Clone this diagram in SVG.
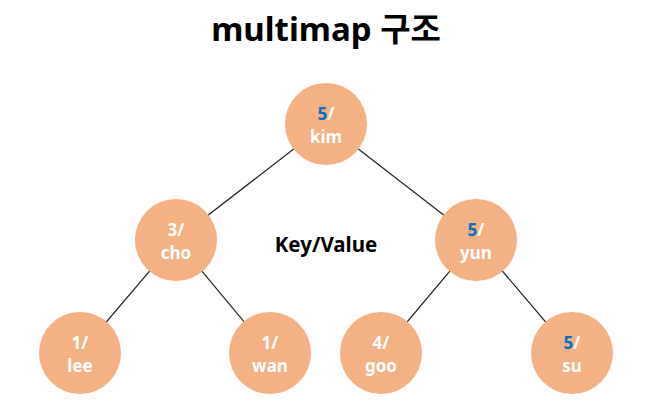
<svg xmlns="http://www.w3.org/2000/svg" width="655" height="407" viewBox="0 0 655 407">
<style>
.n{fill:#F4B183}
.t{font-family:"Noto Sans","Noto Sans CJK KR",sans-serif;font-weight:bold;font-size:17px;fill:#ffffff;text-anchor:middle}
.b{fill:#0070C0}
.e{stroke:#222;stroke-width:1.2}
</style>
<rect width="655" height="407" fill="#ffffff"/>
<text x="326" y="41" font-family="'Noto Sans','Noto Sans CJK KR',sans-serif" font-weight="bold" font-size="33" text-anchor="middle" fill="#000">multimap 구조</text>
<g id="connectors">
<line class="e" x1="326" y1="124" x2="176" y2="240"/>
<line class="e" x1="326" y1="124" x2="476" y2="240"/>
<line class="e" x1="176" y1="240" x2="80" y2="353"/>
<line class="e" x1="176" y1="240" x2="270" y2="353"/>
<line class="e" x1="476" y1="240" x2="381" y2="353"/>
<line class="e" x1="476" y1="240" x2="572" y2="353"/>
</g>
<g id="kim"><circle class="n" cx="326" cy="124" r="41"/><text class="t" x="326" y="120"><tspan class="b">5</tspan>/</text><text class="t" x="326" y="143">kim</text></g>
<g id="cho"><circle class="n" cx="176" cy="240" r="41"/><text class="t" x="176" y="236">3/</text><text class="t" x="176" y="259">cho</text></g>
<g id="yun"><circle class="n" cx="476" cy="240" r="41"/><text class="t" x="476" y="236"><tspan class="b">5</tspan>/</text><text class="t" x="476" y="259">yun</text></g>
<g id="lee"><circle class="n" cx="80" cy="353" r="41"/><text class="t" x="80" y="349">1/</text><text class="t" x="80" y="372">lee</text></g>
<g id="wan"><circle class="n" cx="270" cy="353" r="41"/><text class="t" x="270" y="349">1/</text><text class="t" x="270" y="372">wan</text></g>
<g id="goo"><circle class="n" cx="381" cy="353" r="41"/><text class="t" x="381" y="349">4/</text><text class="t" x="381" y="372">goo</text></g>
<g id="su"><circle class="n" cx="572" cy="353" r="41"/><text class="t" x="572" y="349"><tspan class="b">5</tspan>/</text><text class="t" x="572" y="372">su</text></g>
<g id="label"><text x="326" y="252" font-family="'Noto Sans',sans-serif" font-weight="bold" font-size="20.5" text-anchor="middle" fill="#000">Key/Value</text></g>
</svg>
